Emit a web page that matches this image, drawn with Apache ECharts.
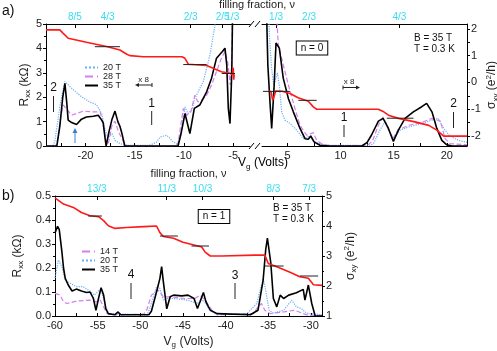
<!DOCTYPE html>
<html>
<head>
<meta charset="utf-8">
<script src="https://cdn.jsdelivr.net/npm/echarts@6/dist/echarts.min.js"></script>
<style>
  html, body { margin: 0; padding: 0; background: #fff; }
  #chart { width: 497px; height: 351px; }
</style>
</head>
<body>
<div id="chart"></div>
<script>
// ---- panel a, left segment (Vg < 0), Rxx in kOhm ----
const a35L = [[-24, 0], [-22.9, 0], [-22.6, 0.8], [-22.3, 2.0], [-22.08, 2.57], [-21.9, 1.8], [-21.75, 1.06], [-21.4, 0.96], [-20.9, 0.88], [-20.4, 1.1], [-19.9, 1.19], [-19.2, 1.22], [-18.7, 1.26], [-18.35, 1.06], [-18.2, 0.96], [-18.0, 0.3], [-17.9, 0], [-17.85, 0], [-17.6, 0.6], [-17.3, 1.1], [-17.0, 1.43], [-16.7, 0.99], [-16.5, 0.81], [-16.3, 0.52], [-16.0, 0], [-10.6, 0], [-10.3, 0.5], [-9.9, 1.33], [-9.4, 0.51], [-8.95, 1.54], [-8.4, 1.68], [-7.7, 2.22], [-7.2, 2.78], [-6.7, 3.6], [-6.1, 3.87], [-5.84, 4.01], [-5.66, 3.32], [-5.5, 1.54], [-5.33, 0.92], [-5.15, 3.0], [-5.05, 6]];
const a28L = [[-24, 0], [-23.0, 0], [-22.8, 0.3], [-22.5, 1.2], [-22.25, 1.68], [-21.9, 1.51], [-21.4, 1.26], [-20.9, 1.33], [-20.2, 1.43], [-19.2, 1.4], [-18.5, 1.4], [-18.2, 0.85], [-17.9, 0.16], [-17.7, 0.05], [-17.3, 0.85], [-17.0, 1.02], [-16.7, 0.65], [-16.3, 0.3], [-16.0, 0.05], [-15.5, 0], [-10.9, 0], [-10.6, 0.1], [-10.07, 1.54], [-9.73, 1.26], [-9.3, 1.4], [-8.9, 2.08], [-8.6, 1.81], [-8.2, 1.88], [-7.7, 2.08], [-7.2, 2.5], [-6.7, 3.05], [-6.2, 3.6], [-5.84, 3.87], [-5.57, 3.46], [-5.3, 2.5], [-5.15, 3.5], [-5.05, 6]];
const a20L = [[-24, 0], [-23.3, 0], [-23.1, 0.2], [-22.6, 1.6], [-22.1, 2.64], [-21.9, 2.67], [-21.2, 2.29], [-20.4, 2.02], [-19.5, 1.79], [-18.9, 1.7], [-18.35, 1.33], [-18.0, 0.65], [-17.7, 0.33], [-17.3, 0.51], [-17.0, 0.23], [-16.5, 0.1], [-16.0, 0.03], [-13.5, 0.03], [-12.8, 0.15], [-12.4, 0.37], [-11.75, 0.44], [-11.4, 0.3], [-11.1, 0.16], [-10.7, 0.1], [-10.4, 0.3], [-9.9, 1.6], [-9.6, 1.33], [-9.2, 1.47], [-8.9, 1.95], [-8.04, 2.64], [-7.36, 3.74], [-6.85, 4.97], [-6.7, 6]];
// sigma_xy in e^2/h
const aSigL = [[-24, 1.96], [-22.6, 1.96], [-22.3, 1.85], [-21.75, 1.65], [-19.9, 1.5], [-17.85, 1.34], [-16.5, 1.21], [-15.8, 1.05], [-15.5, 1.0], [-14.1, 0.96], [-10.2, 0.96], [-9.9, 0.9], [-9.56, 0.68], [-7.7, 0.63], [-6.2, 0.4], [-5.33, 0.34], [-5.1, 0.3], [-5.0, 0.55], [-4.95, 0.1], [-4.9, 0.3]];

// ---- panel a, right segment (Vg > 0) ----
const a35R = [[3.0, 6], [3.15, 3.32], [3.35, 1.81], [3.51, 0.72], [3.73, 2.36], [3.92, 4.22], [4.23, 4.01], [4.6, 2.78], [5.08, 1.95], [5.55, 1.4], [6.18, 0.72], [6.65, 0.3], [6.96, 0.28], [7.19, 0.41], [7.5, 0.17], [8.06, 0.03], [9, 0], [12, 0], [12.5, 0.15], [12.9, 0.44], [13.56, 1.02], [14.0, 1.13], [14.5, 0.72], [14.97, 0.19], [15.44, 0.65], [16.07, 1.13], [16.85, 1.4], [17.64, 1.61], [18.1, 1.75], [18.6, 1.4], [19.06, 0.72], [19.53, 0.23], [20, 0.05], [20.5, 0], [21.9, 0]];
const a28R = [[3.9, 6], [4.13, 4.15], [4.45, 3.6], [4.76, 3.05], [5.17, 2.36], [5.7, 1.54], [6.18, 0.85], [6.8, 0.44], [7.43, 0.55], [7.75, 0.23], [8.37, 0.05], [9, 0.02], [12.5, 0.02], [13.0, 0.2], [13.56, 0.85], [14.0, 1.19], [14.5, 0.72], [14.9, 0.28], [15.4, 0.65], [16.4, 0.85], [17.6, 0.96], [18.6, 1.13], [19.4, 1.02], [19.84, 0.3], [20.3, 0.1], [21.9, 0.05]];
const a20R = [[3.2, 6], [3.3, 4.5], [3.5, 3.2], [3.7, 2.5], [3.85, 2.7], [4.05, 3.0], [4.25, 2.4], [4.45, 1.4], [4.76, 1.06], [5.24, 0.92], [5.87, 0.65], [6.49, 0.3], [7.1, 0.41], [7.6, 0.16], [8.5, 0.03], [12.8, 0.03], [13.1, 0.1], [13.7, 0.65], [14.2, 1.02], [14.5, 0.65], [15.0, 0.3], [15.6, 0.65], [16.4, 0.78], [17.64, 0.92], [18.6, 1.06], [19.2, 1.13], [19.7, 0.72], [20.3, 0.41], [21.1, 0.23], [21.9, 0.15]];
const aSigR = [[3.19, -0.32], [3.45, -0.35], [3.6, -0.66], [3.75, -0.5], [3.9, -0.32], [4.5, -0.33], [5.24, -0.41], [6.0, -0.57], [6.96, -0.7], [7.43, -0.91], [7.75, -1.0], [13.56, -1.0], [14.0, -1.08], [14.5, -1.22], [15.45, -1.34], [17.0, -1.47], [18.3, -1.6], [19.06, -1.78], [19.7, -2.0], [21.9, -2.0]];

// ---- panel b ----
const b35 = [[-60, 0.346], [-59.7, 0.374], [-59.5, 0.36], [-59.2, 0.27], [-59.0, 0.2], [-58.8, 0.157], [-58.45, 0.129], [-58.0, 0.104], [-57.5, 0.112], [-56.9, 0.104], [-56.3, 0.098], [-55.9, 0.1], [-55.5, 0.073], [-55.2, 0.024], [-54.9, 0.073], [-54.6, 0.118], [-54.3, 0.087], [-54.05, 0.031], [-53.75, 0.01], [-53.0, 0.005], [-52.6, 0.017], [-52.3, 0.005], [-49, 0.005], [-48.7, 0.02], [-48.1, 0.1], [-47.7, 0.157], [-47.5, 0.206], [-47.3, 0.143], [-46.9, 0.03], [-46.5, 0.08], [-46.1, 0.087], [-45.15, 0.084], [-44.4, 0.087], [-43.7, 0.073], [-43.3, 0.031], [-43.0, 0.059], [-42.6, 0.098], [-42.3, 0.059], [-41.8, 0.024], [-41.0, 0.01], [-37.1, 0.005], [-36.2, 0.024], [-35.6, 0.15], [-35.3, 0.276], [-35.1, 0.325], [-34.7, 0.22], [-34.4, 0.073], [-34.0, 0.038], [-33.6, 0.087], [-33.4, 0.083], [-33.2, 0.073], [-32.6, 0.087], [-31.7, 0.097], [-30.9, 0.111], [-30.7, 0.066], [-30.3, 0.129], [-29.9, 0.052], [-29.5, 0], [-28.7, 0]];
const b20 = [[-60, 0.158], [-59.6, 0.234], [-59.2, 0.206], [-58.8, 0.15], [-58.2, 0.136], [-57.5, 0.122], [-56.7, 0.122], [-55.9, 0.104], [-55.4, 0.087], [-54.9, 0.104], [-54.6, 0.112], [-54.1, 0.045], [-53.75, 0.01], [-49.2, 0.005], [-48.9, 0.03], [-48.1, 0.122], [-47.7, 0.115], [-47.3, 0.066], [-46.8, 0.073], [-46.1, 0.073], [-44.4, 0.066], [-43.4, 0.052], [-42.6, 0.066], [-42.0, 0.031], [-41.2, 0.01], [-37.5, 0.01], [-36.35, 0.052], [-35.8, 0.129], [-35.5, 0.143], [-35.3, 0.108], [-34.9, 0.024], [-34.4, 0.012], [-33.2, 0.024], [-32.25, 0.066], [-31.7, 0.038], [-31.1, 0.031], [-30.7, 0.017], [-30.3, 0.01], [-28.7, 0.005]];
const b14 = [[-60, 0.094], [-59.4, 0.087], [-59.0, 0.059], [-58.6, 0.052], [-57.5, 0.062], [-55.9, 0.066], [-55.2, 0.059], [-54.7, 0.066], [-54.3, 0.038], [-53.9, 0.01], [-52.8, 0.005], [-52.5, 0.012], [-52.2, 0.005], [-49.6, 0.008], [-49.25, 0.024], [-48.7, 0.087], [-47.9, 0.108], [-47.3, 0.08], [-46.5, 0.08], [-44.8, 0.073], [-43.6, 0.073], [-43.0, 0.087], [-42.4, 0.066], [-41.6, 0.024], [-41.0, 0.005], [-36.75, 0.01], [-36.2, 0.038], [-35.8, 0.052], [-35.4, 0.024], [-34.8, 0.01], [-33.2, 0.017], [-31.9, 0.024], [-30.9, 0.01], [-30.3, 0.003], [-28.7, 0.003]];
const bSig = [[-60, 4.94], [-59.0, 4.73], [-57.85, 4.62], [-56.9, 4.45], [-55.9, 4.34], [-54.9, 4.31], [-54.3, 4.18], [-53.75, 4.01], [-52.97, 3.92], [-51.6, 3.95], [-49.6, 3.98], [-48.1, 4.0], [-47.7, 3.78], [-47.3, 3.65], [-46.1, 3.59], [-45.0, 3.46], [-43.6, 3.36], [-42.8, 3.3], [-42.4, 3.13], [-41.8, 3.0], [-40.46, 3.0], [-36.55, 3.03], [-35.4, 3.03], [-35.0, 2.75], [-34.0, 2.64], [-32.45, 2.46], [-31.3, 2.31], [-30.3, 2.26], [-29.7, 2.04], [-28.7, 2.02]];

// filling fraction ticks on the top axes (position in Vg, label)
const topAL = [-21.07, -17.75, -9.32, -5.1];
const topALtxt = ['8/5', '4/3', '2/3', '1/3'];
const topAL2 = [-6.07];          // crowded next to 1/3, kept on its own axis
const topAL2txt = ['2/5'];
const topAR = [3.92, 7.03, 15.54];
const topARtxt = ['1/3', '2/3', '4/3'];
const topB = [-55.1, -46.9, -42.7, -34.4, -30.2];
const topBtxt = ['13/3', '11/3', '10/3', '8/3', '7/3'];

// plateau markers: [x1, x2, sigma, label]
const platAL = [[-19.04, -16.5, 4 / 3, '4/3'], [-10.07, -7.7, 2 / 3, '2/3'], [-6.17, -4.82, 1 / 3, '1/3']];
const platAR = [[2.69, 5.24, -1 / 3, '1/3'], [6.02, 7.75, -2 / 3, '2/3'], [14.35, 16.86, -4 / 3, '4/3']];
const platB = [[-56.1, -54.5, 13 / 3, '13/3'], [-47.7, -45.6, 11 / 3, '11/3'], [-44.0, -41.95, 10 / 3, '10/3'], [-35.4, -33.2, 8 / 3, '8/3'], [-31.3, -29.15, 7 / 3, '7/3']];

const FONT = '"Liberation Sans", Arial, sans-serif';
const RED = '#ff1a1a', BLUE = '#6aaef5', MAG = '#d67ef0', BLK = '#000', CYAN = '#3adcf0';

const chart = echarts.init(document.getElementById('chart'));

function ticks(from, to, step) {
  const out = [];
  for (let v = from; v <= to + 1e-9; v += step) out.push(+v.toFixed(3));
  return out;
}

const line = (name, data, xi, yi, color, type, width, z) => ({
  name, type: 'line', data, xAxisIndex: xi, yAxisIndex: yi, symbol: 'none',
  lineStyle: {color, type, width}, itemStyle: {color}, z: z || 2, clip: true, animation: false
});

// a short horizontal bar with its fraction text
const plateau = (p, xi, yi, pos, offset) => ({
  type: 'line', xAxisIndex: xi, yAxisIndex: yi, symbol: 'circle', symbolSize: 1, z: 5,
  animation: false, silent: true, clip: false,
  lineStyle: {color: '#222', width: 1}, itemStyle: {color: '#222', opacity: 0},
  data: [
    {value: [p[0], p[2]], label: {show: pos === 'left', position: 'left', distance: 2, formatter: p[3]}},
    {value: [p[1], p[2]], label: {show: pos !== 'left', position: pos, distance: pos === 'top' ? 1 : 2, offset: offset || [0, 0], formatter: p[3]}}
  ],
  label: {fontFamily: FONT, fontSize: 9, color: '#333'}
});

const axisFont = {fontFamily: FONT, fontSize: 11, color: '#222'};
const axLine = () => ({show: true, onZero: false, lineStyle: {color: '#000', width: 1}});
const hidden = (grid, min, max) => ({type: 'value', gridIndex: grid, min, max, show: false,
  axisLine: {show: false, onZero: false}, axisTick: {show: false}, axisLabel: {show: false}, splitLine: {show: false}});

const subRich = {
  i: {fontFamily: FONT, fontSize: 12, color: '#222'},
  s: {fontFamily: FONT, fontSize: 8, color: '#222', padding: [7, 0, 0, 0]},
  p: {fontFamily: FONT, fontSize: 8, color: '#222', padding: [0, 0, 7, 0]}
};

const bottomAxis = (grid, min, max, labels, tickVals, name) => ({
  type: 'value', gridIndex: grid, position: 'bottom', min, max,
  axisLine: axLine(), splitLine: {show: false},
  axisTick: {show: true, inside: true, length: 3, customValues: tickVals, lineStyle: {color: '#000'}},
  axisLabel: Object.assign({customValues: labels, margin: 4}, axisFont),
  name: name || '', nameLocation: 'middle', nameGap: 18,
  nameTextStyle: {fontFamily: FONT, fontSize: 12, color: '#222', rich: subRich}
});
const topAxis = (grid, min, max, vals, txt, name) => ({
  type: 'value', gridIndex: grid, position: 'top', min, max,
  axisLine: axLine(), splitLine: {show: false},
  axisTick: {show: true, inside: true, length: 4, customValues: vals, lineStyle: {color: '#000'}},
  axisLabel: {customValues: vals, margin: 2, fontFamily: FONT, fontSize: 10, color: CYAN,
    showMinLabel: true, showMaxLabel: true, hideOverlap: false,
    formatter: v => txt[vals.indexOf(v)] || ''},
  name: name || '', nameLocation: 'middle', nameGap: 17,
  nameTextStyle: {fontFamily: FONT, fontSize: 11, color: '#222'}
});

const option = {
  backgroundColor: '#fff',
  animation: false,
  grid: [
    {left: 46, right: 247, top: 24, bottom: 205, outerBoundsMode: 'none'},
    {left: 262, right: 30, top: 24, bottom: 205, outerBoundsMode: 'none'},
    {left: 55, right: 175, top: 196, bottom: 35, outerBoundsMode: 'none'}
  ],
  xAxis: [
    bottomAxis(0, -24, -3.3, [-20, -15, -10, -5], ticks(-22.5, -5, 2.5)),
    topAxis(0, -24, -3.3, topAL, topALtxt),
    bottomAxis(1, 2.6, 21.9, [5, 10, 15, 20], ticks(5, 20, 2.5)),
    topAxis(1, 2.6, 21.9, topAR, topARtxt),
    bottomAxis(2, -60, -28.7, [-60, -55, -50, -45, -40, -35, -30], ticks(-60, -30, 2.5), '{i|V}{s|g}{i| (Volts)}'),
    topAxis(2, -60, -28.7, topB, topBtxt, 'filling fraction, ν'),
    Object.assign(topAxis(0, -24, -3.3, topAL2, topAL2txt), {offset: 0})
  ],
  yAxis: [
    {type: 'value', gridIndex: 0, position: 'left', min: 0, max: 5, interval: 1,
      axisLine: axLine(), splitLine: {show: false},
      axisTick: {show: true, length: 3, lineStyle: {color: '#000'}},
      minorTick: {show: true, splitNumber: 2, length: 2, lineStyle: {color: '#000'}},
      axisLabel: Object.assign({margin: 4}, axisFont),
      name: '{i|R}{s|xx}{i| (kΩ)}', nameLocation: 'middle', nameGap: 14, nameRotate: 90,
      nameTextStyle: {rich: subRich}},
    hidden(0, -2.37, 2.18),
    hidden(1, 0, 5),
    {type: 'value', gridIndex: 1, position: 'right', min: -2.37, max: 2.18,
      axisLine: axLine(), splitLine: {show: false},
      axisTick: {show: true, length: 3, customValues: ticks(-2, 2, 0.5), lineStyle: {color: '#000'}},
      axisLabel: Object.assign({margin: 4, customValues: [-2, -1, 0, 1, 2]}, axisFont),
      name: '{i|σ}{s|xy}{i| (e}{p|2}{i|/h)}', nameLocation: 'middle', nameGap: 13, nameRotate: 90,
      nameTextStyle: {rich: subRich}},
    {type: 'value', gridIndex: 2, position: 'left', min: 0, max: 0.5, interval: 0.1,
      axisLine: axLine(), splitLine: {show: false},
      axisTick: {show: true, length: 3, lineStyle: {color: '#000'}},
      minorTick: {show: true, splitNumber: 2, length: 2, lineStyle: {color: '#000'}},
      axisLabel: Object.assign({margin: 4, formatter: v => v.toFixed(1)}, axisFont),
      name: '{i|R}{s|xx}{i| (kΩ)}', nameLocation: 'middle', nameGap: 22, nameRotate: 90,
      nameTextStyle: {rich: subRich}},
    {type: 'value', gridIndex: 2, position: 'right', min: 1, max: 5, interval: 1,
      axisLine: axLine(), splitLine: {show: false},
      axisTick: {show: true, length: 3, lineStyle: {color: '#000'}},
      minorTick: {show: true, splitNumber: 2, length: 2, lineStyle: {color: '#000'}},
      axisLabel: Object.assign({margin: 4}, axisFont),
      name: '{i|σ}{s|xy}{i| (e}{p|2}{i|/h)}', nameLocation: 'middle', nameGap: 17, nameRotate: 90,
      nameTextStyle: {rich: subRich}}
  ],
  legend: [
    {data: ['20 T', '28 T', '35 T'], orient: 'vertical', left: 84, top: 63, padding: 0, itemGap: 0,
      itemWidth: 13, itemHeight: 8, selectedMode: false, itemStyle: {opacity: 0},
      textStyle: {fontFamily: FONT, fontSize: 9, color: '#222', lineHeight: 9}},
    {data: ['14 T', '20 T', '35 T'], orient: 'vertical', left: 81, top: 247, padding: 0, itemGap: 0,
      itemWidth: 13, itemHeight: 8, selectedMode: false, itemStyle: {opacity: 0},
      textStyle: {fontFamily: FONT, fontSize: 9, color: '#222', lineHeight: 9}}
  ],
  series: [
    line('20 T', a20L, 0, 0, BLUE, 'dotted', 1.2),
    line('28 T', a28L, 0, 0, MAG, 'dashed', 1.2),
    line('35 T', a35L, 0, 0, BLK, 'solid', 1.6, 3),
    line('sxy', aSigL, 0, 1, RED, 'solid', 1.6, 4),
    line('20 T', a20R, 2, 2, BLUE, 'dotted', 1.2),
    line('28 T', a28R, 2, 2, MAG, 'dashed', 1.2),
    line('35 T', a35R, 2, 2, BLK, 'solid', 1.6, 3),
    line('sxy', aSigR, 2, 3, RED, 'solid', 1.6, 4),
    line('14 T', b14, 4, 4, MAG, 'dashed', 1.2),
    line('20 T', b20, 4, 4, BLUE, 'dotted', 1.2),
    line('35 T', b35, 4, 4, BLK, 'solid', 1.6, 3),
    line('sxy', bSig, 4, 5, RED, 'solid', 1.6, 4),
    plateau(platAL[0], 0, 1, 'right'),
    plateau(platAL[1], 0, 1, 'left'),
    plateau(platAL[2], 0, 1, 'right'),
    plateau(platAR[0], 2, 3, 'left'),
    plateau(platAR[1], 2, 3, 'right'),
    plateau(platAR[2], 2, 3, 'top', [-6, 0]),
    plateau(platB[0], 4, 5, 'right'),
    plateau(platB[1], 4, 5, 'right'),
    plateau(platB[2], 4, 5, 'right'),
    plateau(platB[3], 4, 5, 'top'),
    plateau(platB[4], 4, 5, 'top', [-9, 0])
  ],
  graphic: [
    {type: 'text', left: 2, top: 4, style: {text: 'a)', font: '14px ' + FONT, fill: '#111'}},
    {type: 'text', left: 2, top: 189, style: {text: 'b)', font: '14px ' + FONT, fill: '#111'}},
    {type: 'text', x: 257, y: 5, style: {text: 'filling fraction, ν', font: '11px ' + FONT, fill: '#222', align: 'center', verticalAlign: 'middle'}},
    {type: 'text', x: 263, y: 163, style: {
      rich: subRich, text: '{i|V}{s|g}{i| (Volts)}', align: 'center', verticalAlign: 'middle'}},
    // axis breaks
    {type: 'line', shape: {x1: 249, y1: 27, x2: 254, y2: 21}, style: {stroke: '#000', lineWidth: 1}},
    {type: 'line', shape: {x1: 255, y1: 27, x2: 260, y2: 21}, style: {stroke: '#000', lineWidth: 1}},
    {type: 'line', shape: {x1: 249, y1: 149, x2: 254, y2: 143}, style: {stroke: '#000', lineWidth: 1}},
    {type: 'line', shape: {x1: 255, y1: 149, x2: 260, y2: 143}, style: {stroke: '#000', lineWidth: 1}},
    // panel a annotations
    {type: 'text', x: 53.5, y: 88, style: {text: '2', font: '12px ' + FONT, fill: '#111', align: 'center', verticalAlign: 'middle'}},
    {type: 'line', shape: {x1: 53.5, y1: 96, x2: 53.5, y2: 112}, style: {stroke: '#222', lineWidth: 1}},
    {type: 'line', shape: {x1: 75, y1: 143, x2: 75, y2: 132}, style: {stroke: '#3a7fd0', lineWidth: 1}},
    {type: 'polygon', shape: {points: [[72.5, 133], [77.5, 133], [75, 128]]}, style: {fill: '#3a7fd0'}},
    {type: 'text', x: 143.5, y: 79.5, style: {text: 'x 8', font: '8px ' + FONT, fill: '#222', align: 'center', verticalAlign: 'middle'}},
    {type: 'line', shape: {x1: 152, y1: 85, x2: 138, y2: 85}, style: {stroke: '#222', lineWidth: 1}},
    {type: 'polygon', shape: {points: [[139, 83], [139, 87], [135, 85]]}, style: {fill: '#222'}},
    {type: 'line', shape: {x1: 152, y1: 83, x2: 152, y2: 87}, style: {stroke: '#222', lineWidth: 1}},
    {type: 'text', x: 151.7, y: 104, style: {text: '1', font: '12px ' + FONT, fill: '#111', align: 'center', verticalAlign: 'middle'}},
    {type: 'line', shape: {x1: 151.7, y1: 111, x2: 151.7, y2: 125}, style: {stroke: '#222', lineWidth: 1}},
    {type: 'text', x: 349, y: 82, style: {text: 'x 8', font: '8px ' + FONT, fill: '#222', align: 'center', verticalAlign: 'middle'}},
    {type: 'line', shape: {x1: 343, y1: 87.5, x2: 357, y2: 87.5}, style: {stroke: '#222', lineWidth: 1}},
    {type: 'polygon', shape: {points: [[356, 85.5], [356, 89.5], [360, 87.5]]}, style: {fill: '#222'}},
    {type: 'line', shape: {x1: 343, y1: 85.5, x2: 343, y2: 89.5}, style: {stroke: '#222', lineWidth: 1}},
    {type: 'text', x: 344, y: 118, style: {text: '1', font: '12px ' + FONT, fill: '#111', align: 'center', verticalAlign: 'middle'}},
    {type: 'line', shape: {x1: 344, y1: 125, x2: 344, y2: 137}, style: {stroke: '#222', lineWidth: 1}},
    {type: 'text', x: 453.5, y: 104, style: {text: '2', font: '12px ' + FONT, fill: '#111', align: 'center', verticalAlign: 'middle'}},
    {type: 'line', shape: {x1: 453.5, y1: 112, x2: 453.5, y2: 128}, style: {stroke: '#222', lineWidth: 1}},
    {type: 'text', x: 312, y: 48, style: {text: 'n = 0', font: '10px ' + FONT, fill: '#111', align: 'center', verticalAlign: 'middle',
      borderColor: '#000', borderWidth: 1, padding: [2, 4, 1, 4], backgroundColor: '#fff'}},
    {type: 'text', left: 414, top: 33, style: {text: 'B = 35 T\nT = 0.3 K', font: '10px ' + FONT, fill: '#111', lineHeight: 11}},
    // panel b annotations
    {type: 'text', x: 131, y: 275, style: {text: '4', font: '12px ' + FONT, fill: '#111', align: 'center', verticalAlign: 'middle'}},
    {type: 'line', shape: {x1: 131, y1: 283, x2: 131, y2: 299}, style: {stroke: '#222', lineWidth: 1}},
    {type: 'text', x: 235, y: 276, style: {text: '3', font: '12px ' + FONT, fill: '#111', align: 'center', verticalAlign: 'middle'}},
    {type: 'line', shape: {x1: 235, y1: 283, x2: 235, y2: 299}, style: {stroke: '#222', lineWidth: 1}},
    {type: 'text', x: 214, y: 216.5, style: {text: 'n = 1', font: '10px ' + FONT, fill: '#111', align: 'center', verticalAlign: 'middle',
      borderColor: '#000', borderWidth: 1, padding: [2, 4, 1, 4], backgroundColor: '#fff'}},
    {type: 'text', left: 273, top: 203, style: {text: 'B = 35 T\nT = 0.3 K', font: '10px ' + FONT, fill: '#111', lineHeight: 11}}
  ]
};

chart.setOption(option);
</script>
</body>
</html>
